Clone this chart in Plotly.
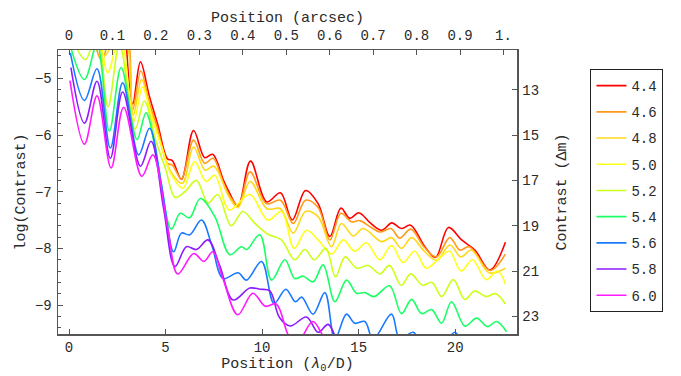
import plotly.graph_objects as go

# ---- data ----
labels = ["4.4", "4.6", "4.8", "5.0", "5.2", "5.4", "5.6", "5.8", "6.0"]
colors = ["#ff0000", "#ff9a1a", "#ffd81a", "#ffff1a", "#ccff1a", "#1aff66", "#1a7aff", "#8c1aff", "#ff1aff"]

x_44 = [2.9, 3.3, 3.70, 4.15, 4.6, 5.1, 5.35, 5.82, 6.45, 7.03, 7.44, 8.0, 8.28, 8.75, 9.40, 10.24, 10.95, 11.56, 12.25, 12.9, 13.51, 14.08, 14.54, 15.01, 15.6, 16.19, 16.72, 17.2, 17.69, 18.43, 18.98, 19.65, 20.33, 21.02, 21.8, 22.6]
y_44 = [-4.0, -5.45, -4.71, -5.3, -5.82, -6.42, -6.45, -6.78, -5.92, -6.40, -6.34, -6.8, -7.0, -7.25, -6.46, -7.18, -7.02, -7.50, -6.98, -7.21, -7.79, -7.29, -7.47, -7.37, -7.55, -7.68, -7.55, -7.65, -7.59, -7.97, -8.16, -7.63, -7.85, -8.03, -8.38, -7.89]

x_46 = [0.8, 1.2, 1.7, 2.2, 2.9, 3.3, 3.72, 4.15, 4.6, 5.1, 5.35, 5.82, 6.45, 7.03, 7.46, 8.0, 8.3, 8.76, 9.38, 10.22, 10.95, 11.61, 12.25, 12.9, 13.51, 14.08, 14.63, 15.06, 15.6, 16.1, 16.67, 17.13, 17.7, 18.4, 19.03, 19.72, 20.24, 20.73, 21.8, 22.6]
y_46 = [-4.0, -4.25, -4.69, -4.2, -4.1, -5.55, -4.87, -5.42, -5.9, -6.5, -6.53, -6.77, -6.09, -6.50, -6.41, -6.85, -7.06, -7.24, -6.65, -7.21, -7.15, -7.56, -7.15, -7.28, -7.85, -7.38, -7.53, -7.51, -7.62, -7.71, -7.65, -7.82, -7.66, -7.98, -8.15, -7.81, -8.03, -7.97, -8.39, -8.10]

x_48 = [0.5, 1.2, 1.85, 2.5, 2.95, 3.33, 3.76, 4.2, 4.7, 5.2, 5.87, 6.45, 7.05, 7.5, 8.3, 8.75, 9.38, 10.25, 10.95, 11.61, 12.25, 12.9, 13.59, 14.11, 14.72, 15.23, 16.19, 16.7, 17.22, 17.74, 18.4, 19.03, 19.73, 20.29, 20.85, 21.75, 22.6]
y_48 = [-4.1, -4.2, -4.6, -4.2, -4.3, -5.65, -5.02, -5.55, -6.1, -6.6, -6.85, -6.21, -6.62, -6.55, -7.1, -7.28, -6.82, -7.3, -7.3, -7.73, -7.35, -7.44, -7.97, -7.56, -7.78, -7.65, -7.88, -7.81, -8.00, -7.81, -8.05, -8.21, -7.94, -8.15, -8.03, -8.43, -8.35]

x_50 = [0.0, 0.85, 1.45, 2.0, 2.65, 3.36, 3.8, 4.3, 4.8, 5.3, 5.9, 6.5, 7.1, 7.55, 8.3, 9.36, 10.3, 11.0, 11.66, 12.3, 12.9, 13.6, 14.2, 14.8, 15.4, 16.1, 16.7, 17.3, 17.9, 18.5, 19.1, 19.7, 20.3, 20.9, 21.6, 22.2, 22.6]
y_50 = [-4.2, -4.45, -4.1, -4.9, -4.2, -5.75, -5.15, -5.7, -6.2, -6.7, -6.94, -6.47, -6.82, -6.71, -7.32, -7.05, -7.5, -7.35, -8.0, -7.68, -7.85, -8.1, -7.85, -8.05, -7.9, -8.2, -7.95, -8.25, -8.05, -8.35, -8.2, -8.05, -8.4, -8.2, -8.55, -8.4, -8.63]

x_52 = [0.0, 0.85, 1.45, 2.02, 2.62, 3.42, 3.9, 4.5, 5.0, 5.5, 6.0, 6.6, 7.2, 7.7, 8.4, 9.0, 9.6, 10.3, 11.0, 11.69, 12.21, 12.7, 13.3, 13.8, 14.3, 14.9, 15.5, 16.1, 16.6, 17.2, 17.7, 18.3, 18.8, 19.3, 19.9, 20.5, 21.0, 21.6, 22.1, 22.6]
y_52 = [-4.15, -4.67, -4.15, -5.5, -4.4, -5.9, -5.4, -6.1, -6.6, -7.1, -7.0, -6.8, -7.2, -7.05, -7.6, -7.35, -7.55, -7.75, -7.85, -8.2, -8.02, -8.2, -8.0, -8.5, -8.15, -8.35, -8.3, -8.45, -8.3, -8.65, -8.45, -8.65, -8.6, -8.85, -8.55, -8.9, -8.75, -8.85, -8.8, -8.98]

x_54 = [0.0, 0.80, 1.45, 2.09, 2.70, 3.52, 3.99, 4.6, 5.30, 5.76, 6.24, 6.80, 7.55, 8.33, 8.93, 9.2, 9.88, 10.49, 11.18, 11.69, 12.13, 12.64, 13.16, 13.77, 14.37, 14.89, 15.32, 15.8, 16.6, 17.22, 17.74, 18.26, 18.78, 19.29, 19.81, 20.5, 21.11, 21.68, 22.14, 22.66]
y_54 = [-4.35, -5.02, -4.40, -5.93, -4.81, -6.08, -5.61, -6.5, -7.66, -7.38, -7.46, -7.12, -7.44, -8.11, -7.97, -8.02, -7.76, -8.56, -8.2, -8.53, -8.49, -8.59, -8.29, -8.94, -8.56, -8.79, -8.78, -8.85, -8.66, -9.15, -8.90, -9.15, -9.08, -9.32, -8.94, -9.37, -9.23, -9.38, -9.29, -9.47]

x_56 = [0.07, 0.80, 1.45, 2.14, 2.78, 3.61, 4.17, 4.8, 5.42, 5.82, 6.25, 6.86, 7.4, 7.98, 8.76, 9.19, 9.97, 10.62, 11.23, 11.72, 12.05, 12.64, 13.25, 13.77, 14.37, 14.8, 15.32, 15.75, 16.7, 17.13, 17.83, 18.4, 19.2, 19.98, 20.6, 21.3, 22.6]
y_56 = [-4.55, -5.39, -4.83, -6.23, -5.08, -6.35, -5.88, -6.9, -8.06, -7.73, -7.76, -7.50, -7.95, -8.53, -8.43, -8.56, -8.23, -8.97, -8.72, -8.94, -8.86, -9.16, -8.78, -9.6, -9.16, -9.32, -9.29, -9.6, -9.16, -9.6, -9.48, -9.8, -9.8, -9.48, -9.8, -9.9, -9.9]

x_58 = [0.10, 0.80, 1.45, 2.14, 2.78, 3.70, 4.25, 4.9, 5.49, 6.08, 6.6, 7.2, 7.8, 8.5, 9.36, 9.9, 10.4, 10.9, 11.45, 12.3, 12.9, 13.42, 13.9, 14.3]
y_58 = [-4.81, -5.79, -5.05, -6.41, -5.24, -6.55, -6.11, -7.3, -8.32, -7.97, -8.02, -7.85, -8.3, -8.91, -8.70, -8.72, -8.75, -9.22, -9.37, -9.21, -9.48, -9.34, -9.65, -9.9]

x_60 = [0.05, 0.80, 1.45, 2.18, 2.83, 3.77, 4.34, 5.11, 5.63, 6.46, 6.98, 7.45, 7.96, 8.74, 9.52, 10.16, 10.73, 11.33, 11.8, 12.1, 12.63, 13.08, 13.5]
y_60 = [-5.04, -6.16, -5.31, -6.58, -5.51, -6.73, -6.35, -7.64, -8.45, -8.09, -8.23, -8.06, -8.52, -9.17, -8.79, -9.02, -8.98, -9.51, -9.75, -9.55, -9.29, -9.5, -9.8]

xs_all = [x_44, x_46, x_48, x_50, x_52, x_54, x_56, x_58, x_60]
ys_all = [y_44, y_46, y_48, y_50, y_52, y_54, y_56, y_58, y_60]

bottom_ticks = [0, 5, 10, 15, 20]
top_ticks = [0, 0.1, 0.2, 0.3, 0.4, 0.5, 0.6, 0.7, 0.8, 0.9, 1.0]
top_ticktext = ["0", "0.1", "0.2", "0.3", "0.4", "0.5", "0.6", "0.7", "0.8", "0.9", "1."]
left_ticks = [-9, -8, -7, -6, -5]
right_ticks = [13, 15, 17, 19, 21, 23]
arcsec_per_unit = 1 / 22.5

# ---- figure ----
FONT = "Liberation Mono, Courier New, monospace"
TXT = "#2a2a2a"
AX = "#555555"

fig = go.Figure()
for lab, col, xs, ys in zip(labels, colors, xs_all, ys_all):
    fig.add_trace(go.Scatter(
        x=xs, y=ys, mode="lines", name=lab, legendgroup=lab,
        line=dict(color=col, width=1.6, shape="spline", smoothing=1.0),
        hoverinfo="skip",
    ))

xr = [-0.57, 23.2]
yr = [-9.51, -4.5]

# invisible helper trace so the secondary axes are drawn
fig.add_trace(go.Scatter(x=[0, 1], y=[13, 13], xaxis="x2", yaxis="y2", mode="lines",
                         line=dict(width=0), showlegend=False, hoverinfo="skip", opacity=0))

axis_common = dict(showgrid=False, zeroline=False, showline=True, linecolor=AX, linewidth=1.5,
                   ticks="inside", tickcolor=AX, tickwidth=1, ticklen=5, automargin=False)
TKFONT = dict(family=FONT, size=14, color=TXT)
TFONT = dict(family=FONT, size=15, color=TXT)

fig.update_layout(
    width=681, height=376,
    margin=dict(l=58, r=164, t=50, b=42, autoexpand=False),
    paper_bgcolor="white", plot_bgcolor="white",
    font=dict(family=FONT, color=TXT),
    showlegend=True,
    legend=dict(x=1.16, y=0.933, xanchor="left", yanchor="top",
                bordercolor="#222222", borderwidth=1, bgcolor="white",
                font=dict(family=FONT, size=14, color=TXT),
                tracegroupgap=5, itemwidth=30),
    xaxis=dict(range=xr, tickvals=bottom_ticks, **axis_common, tickfont=TKFONT,
               title=dict(text="Position (<i>λ</i><sub>0</sub>/D)", font=TFONT, standoff=0)),
    xaxis2=dict(range=[xr[0] * arcsec_per_unit, xr[1] * arcsec_per_unit], overlaying="x", side="top", anchor="y",
                tickvals=top_ticks, ticktext=top_ticktext, **axis_common, tickfont=TKFONT,
                ticklabelstandoff=3,
                title=dict(text="Position (arcsec)", font=TFONT, standoff=1)),
    yaxis=dict(range=yr, tickvals=left_ticks, **axis_common, tickfont=TKFONT,
               ticklabelstandoff=2,
               minor=dict(dtick=0.2, tick0=-5, ticks="inside", ticklen=3, tickcolor=AX),
               title=dict(text="log(Contrast)", font=TFONT, standoff=5)),
    yaxis2=dict(range=[-2.5 * yr[0], -2.5 * yr[1]], overlaying="y", side="right", anchor="x",
                tickvals=right_ticks, **axis_common, tickfont=TKFONT,
                ticklabelstandoff=1,
                title=dict(text="Contrast (Δm)", font=TFONT, standoff=17)),
)

fig.write_html("out.html", config={"displayModeBar": False, "staticPlot": True},
               post_script="document.body.style.margin='0';document.body.style.padding='0';")
